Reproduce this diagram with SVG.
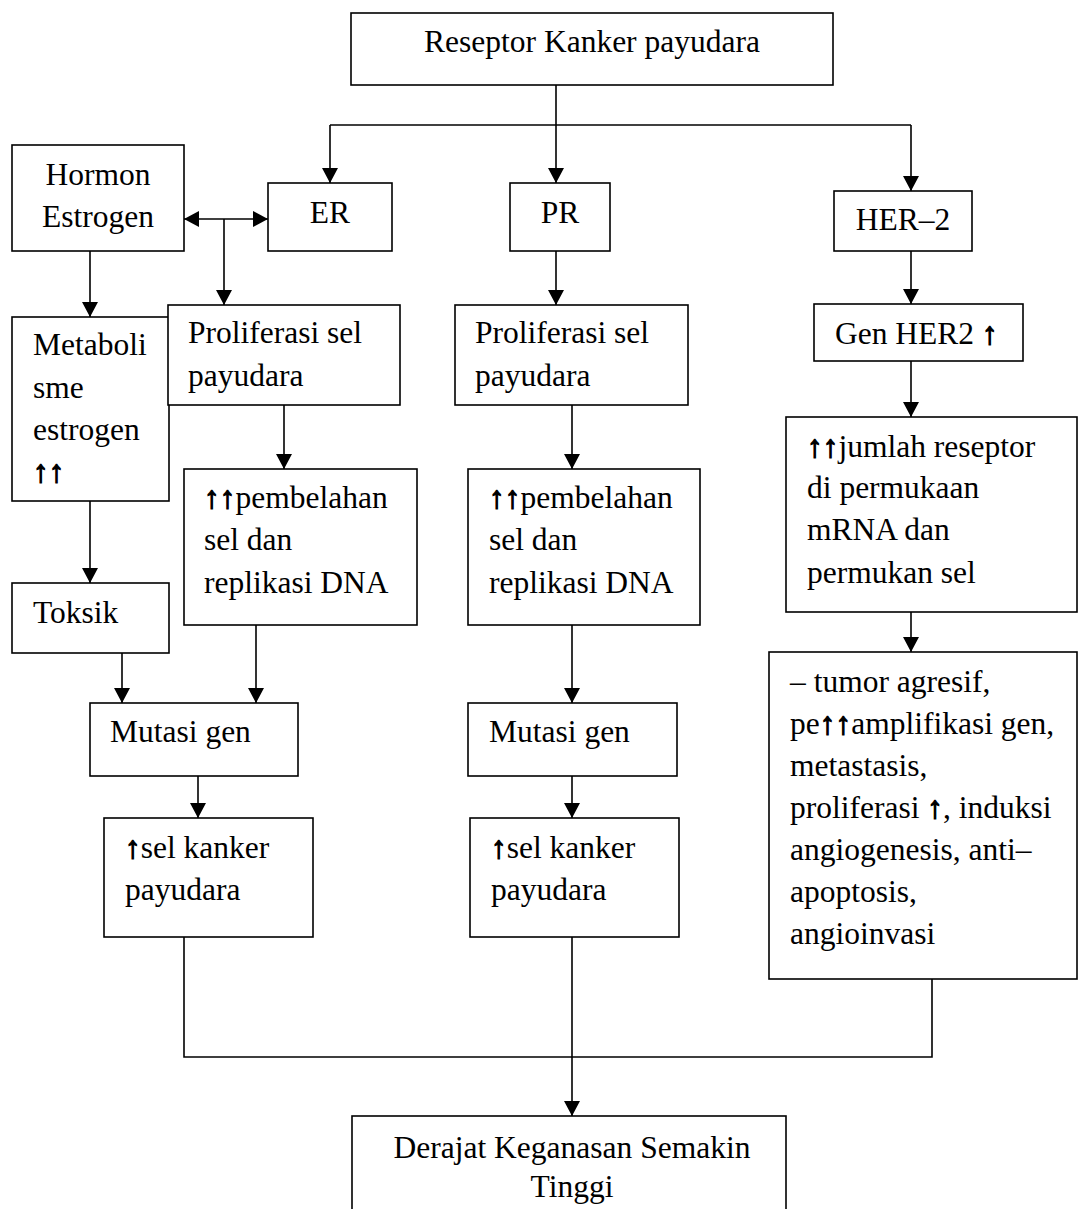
<svg xmlns="http://www.w3.org/2000/svg" width="1078" height="1209" viewBox="0 0 1078 1209">
<style>
.box{fill:#fff;stroke:#000;stroke-width:1.6}
.t{font-family:"Liberation Serif","Times New Roman",serif;font-size:31.5px;fill:#000}
.c{text-anchor:middle}
.u{font-weight:bold;stroke:#000;stroke-width:1.2}
.ln{fill:none;stroke:#000;stroke-width:1.6}
.ar{marker-end:url(#ah)}
</style>
<defs>
<marker id="ah" viewBox="0 0 15 16" refX="15" refY="8" markerWidth="15" markerHeight="16" markerUnits="userSpaceOnUse" orient="auto-start-reverse">
<path d="M0,0 L15,8 L0,16 z" fill="#000"/>
</marker>
</defs>
<rect width="1078" height="1209" fill="#fff"/>
<g id="connectors">
<path class="ln" d="M556,85 V125"/>
<path class="ln" d="M330,125 H911"/>
<path class="ln ar" d="M330,125 V183"/>
<path class="ln ar" d="M556,125 V183"/>
<path class="ln ar" d="M911,125 V191"/>
<path class="ln" d="M184,219 H268" marker-start="url(#ah)" marker-end="url(#ah)"/>
<path class="ln ar" d="M224,219 V305"/>
<path class="ln ar" d="M90,251 V317"/>
<path class="ln ar" d="M556,251 V305"/>
<path class="ln ar" d="M911,251 V304"/>
<path class="ln ar" d="M911,361 V417"/>
<path class="ln ar" d="M911,612 V652"/>
<path class="ln ar" d="M284,405 V469"/>
<path class="ln ar" d="M90,501 V583"/>
<path class="ln ar" d="M122,653 V703"/>
<path class="ln ar" d="M256,625 V703"/>
<path class="ln ar" d="M198,776 V818"/>
<path class="ln ar" d="M572,405 V469"/>
<path class="ln ar" d="M572,625 V703"/>
<path class="ln ar" d="M572,776 V818"/>
<path class="ln" d="M184,937 V1057 H932 V979"/>
<path class="ln ar" d="M572,937 V1116"/>
</g>
<g id="n-top"><rect class="box" x="351" y="13" width="482" height="72"/><text class="t c" x="592" y="52">Reseptor Kanker payudara</text></g>
<g id="n-hormon"><rect class="box" x="12" y="145" width="172" height="106"/><text class="t c" x="98" y="185">Hormon</text><text class="t c" x="98" y="227">Estrogen</text></g>
<g id="n-er"><rect class="box" x="268" y="183" width="124" height="68"/><text class="t c" x="330" y="223">ER</text></g>
<g id="n-pr"><rect class="box" x="510" y="183" width="100" height="68"/><text class="t c" x="560" y="223">PR</text></g>
<g id="n-her2"><rect class="box" x="834" y="191" width="138" height="60"/><text class="t c" x="903" y="230">HER–2</text></g>
<g id="n-metab"><rect class="box" x="12" y="317" width="157" height="184"/><text class="t" x="33" y="355">Metaboli</text><text class="t" x="33" y="398">sme</text><text class="t" x="33" y="440">estrogen</text><text class="t u" x="33" y="482">↑↑</text></g>
<g id="n-prolif-er"><rect class="box" x="168" y="305" width="232" height="100"/><text class="t" x="188" y="343">Proliferasi sel</text><text class="t" x="188" y="386">payudara</text></g>
<g id="n-pemb-er"><rect class="box" x="184" y="469" width="233" height="156"/><text class="t" x="204" y="508"><tspan class="u">↑↑</tspan>pembelahan</text><text class="t" x="204" y="550">sel dan</text><text class="t" x="204" y="593">replikasi DNA</text></g>
<g id="n-toksik"><rect class="box" x="12" y="583" width="157" height="70"/><text class="t" x="33" y="623">Toksik</text></g>
<g id="n-mutasi-er"><rect class="box" x="90" y="703" width="208" height="73"/><text class="t" x="110" y="742">Mutasi gen</text></g>
<g id="n-sel-er"><rect class="box" x="104" y="818" width="209" height="119"/><text class="t" x="125" y="858"><tspan class="u">↑</tspan>sel kanker</text><text class="t" x="125" y="900">payudara</text></g>
<g id="n-prolif-pr"><rect class="box" x="455" y="305" width="233" height="100"/><text class="t" x="475" y="343">Proliferasi sel</text><text class="t" x="475" y="386">payudara</text></g>
<g id="n-pemb-pr"><rect class="box" x="468" y="469" width="232" height="156"/><text class="t" x="489" y="508"><tspan class="u">↑↑</tspan>pembelahan</text><text class="t" x="489" y="550">sel dan</text><text class="t" x="489" y="593">replikasi DNA</text></g>
<g id="n-mutasi-pr"><rect class="box" x="468" y="703" width="209" height="73"/><text class="t" x="489" y="742">Mutasi gen</text></g>
<g id="n-sel-pr"><rect class="box" x="470" y="818" width="209" height="119"/><text class="t" x="491" y="858"><tspan class="u">↑</tspan>sel kanker</text><text class="t" x="491" y="900">payudara</text></g>
<g id="n-gen-her2"><rect class="box" x="814" y="304" width="209" height="57"/><text class="t" x="835" y="344">Gen HER2 <tspan class="u">↑</tspan></text></g>
<g id="n-jumlah"><rect class="box" x="786" y="417" width="291" height="195"/><text class="t" x="807" y="457"><tspan class="u">↑↑</tspan>jumlah reseptor</text><text class="t" x="807" y="498">di permukaan</text><text class="t" x="807" y="540">mRNA dan</text><text class="t" x="807" y="583">permukan sel</text></g>
<g id="n-tumor"><rect class="box" x="769" y="652" width="308" height="327"/><text class="t" x="790" y="692">– tumor agresif,</text><text class="t" x="790" y="734">pe<tspan class="u">↑↑</tspan>amplifikasi gen,</text><text class="t" x="790" y="776">metastasis,</text><text class="t" x="790" y="818">proliferasi <tspan class="u">↑</tspan>, induksi</text><text class="t" x="790" y="860">angiogenesis, anti–</text><text class="t" x="790" y="902">apoptosis,</text><text class="t" x="790" y="944">angioinvasi</text></g>
<g id="n-derajat"><rect class="box" x="352" y="1116" width="434" height="110"/><text class="t c" x="572" y="1158">Derajat Keganasan Semakin</text><text class="t c" x="572" y="1197">Tinggi</text></g>
</svg>
